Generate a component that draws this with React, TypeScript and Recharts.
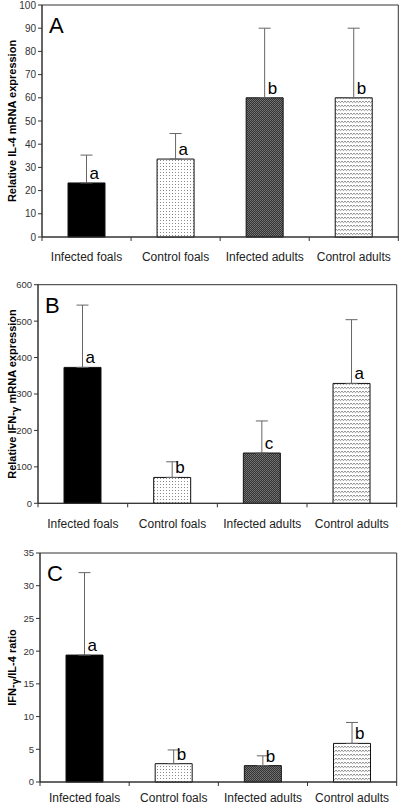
import React from 'react';
import { BarChart, Bar, XAxis, YAxis, ErrorBar, LabelList, ReferenceArea, Cell } from 'recharts';

const groups = ['Infected foals', 'Control foals', 'Infected adults', 'Control adults'];

// panel A - IL-4
const il4Mean = [23.3, 33.6, 60, 60];
const il4Sd = [12, 11, 30, 30];
const il4Letters = ['a', 'a', 'b', 'b'];
const il4Ticks = [0, 10, 20, 30, 40, 50, 60, 70, 80, 90, 100];

// panel B - IFN-gamma
const ifnMean = [373, 71, 138, 329];
const ifnSd = [171, 43, 88, 175];
const ifnLetters = ['a', 'b', 'c', 'a'];
const ifnTicks = [0, 100, 200, 300, 400, 500, 600];

// panel C - ratio
const ratioMean = [19.4, 2.8, 2.5, 5.9];
const ratioSd = [12.6, 2.1, 1.5, 3.2];
const ratioLetters = ['a', 'b', 'b', 'b'];
const ratioTicks = [0, 5, 10, 15, 20, 25, 30, 35];

const FONT = '"Liberation Sans", Arial, sans-serif';

type PanelProps = {
  id: string;
  top: number;
  height: number;
  margin: { top: number; right: number; bottom: number; left: number };
  yWidth: number;
  xHeight: number;
  labelDy: number;
  tag: string;
  yLabel: React.ReactNode;
  means: number[];
  sds: number[];
  letters: string[];
  ticks: number[];
  tickFont: number;
};

function Panel(p: PanelProps) {
  const W = 400;
  const data = groups.map((g, i) => ({
    name: g,
    value: p.means[i],
    err: [0, p.sds[i]],
    letter: p.letters[i],
  }));
  const plotW = W - p.margin.left - p.margin.right - p.yWidth;
  const bw = plotW / groups.length;
  const axisY = p.height - p.margin.bottom - p.xHeight;
  const plotTop = p.margin.top;
  const max = p.ticks[p.ticks.length - 1];
  const fills = ['#000', `url(#dots-${p.id})`, `url(#dark-${p.id})`, `url(#wave-${p.id})`];

  return (
    <div style={{ position: 'absolute', left: 0, top: p.top, width: W, height: p.height }}>
      <BarChart width={W} height={p.height} data={data} margin={p.margin} barSize={37}>
        <defs>
          <pattern id={`dots-${p.id}`} width={3} height={3} patternUnits="userSpaceOnUse">
            <rect width={3} height={3} fill="#fff" />
            <rect x={1} y={1} width={1} height={1} fill="#8a8a8a" />
          </pattern>
          <pattern id={`dark-${p.id}`} width={2} height={2} patternUnits="userSpaceOnUse">
            <rect width={2} height={2} fill="#333" />
            <rect x={0} y={0} width={1} height={1} fill="#777" />
            <rect x={1} y={1} width={1} height={1} fill="#6a6a6a" />
          </pattern>
          <pattern id={`wave-${p.id}`} width={3} height={4} patternUnits="userSpaceOnUse">
            <rect width={3} height={4} fill="#fff" />
            <polyline points="0,1.2 1.5,2.6 3,1.2" fill="none" stroke="#777" strokeWidth={0.9} />
          </pattern>
        </defs>
        <XAxis
          dataKey="name"
          height={p.xHeight}
          interval={0}
          axisLine={{ stroke: '#333' }}
          tickLine={false}
          tick={(t: any) => (
            <g>
              <line x1={t.x - bw / 2} x2={t.x - bw / 2} y1={axisY} y2={axisY + 4} stroke="#333" />
              {t.index === groups.length - 1 && (
                <line x1={t.x + bw / 2} x2={t.x + bw / 2} y1={axisY} y2={axisY + 4} stroke="#333" />
              )}
              <text x={t.x} y={axisY + p.labelDy} textAnchor="middle" fontSize={12} fontFamily={FONT} fill="#222">
                {t.payload.value}
              </text>
            </g>
          )}
        />
        <YAxis
          width={p.yWidth}
          domain={[0, max]}
          ticks={p.ticks}
          interval={0}
          axisLine={{ stroke: '#333' }}
          tickLine={{ stroke: '#333' }}
          tickSize={4}
          tickMargin={2}
          tick={{ fontSize: p.tickFont, fontFamily: FONT, fill: '#333' }}
          label={() => {
            const cy = plotTop + (axisY - plotTop) / 2;
            return (
              <text
                x={12}
                y={cy}
                transform={`rotate(-90 12 ${cy})`}
                textAnchor="middle"
                dy="0.35em"
                fontSize={11}
                fontWeight="bold"
                fontFamily={FONT}
                fill="#000"
              >
                {p.yLabel}
              </text>
            );
          }}
        />
        <ReferenceArea
          y1={0}
          y2={max}
          fill="none"
          fillOpacity={0}
          stroke="#333"
          strokeWidth={1}
          label={(l: any) => (
            <text x={l.viewBox.x + 7} y={l.viewBox.y + 28} fontSize={22} fontFamily={FONT} fill="#000">
              {p.tag}
            </text>
          )}
        />
        <Bar dataKey="value" stroke="#111" strokeWidth={1} isAnimationActive={false}>
          {data.map((_, i) => (
            <Cell key={i} fill={fills[i]} />
          ))}
          <ErrorBar dataKey="err" direction="y" width={6} stroke="#666" strokeWidth={1} isAnimationActive={false} />
          <LabelList
            dataKey="letter"
            content={(l: any) => (
              <text x={l.x + l.width / 2 + 3} y={l.y - 4} fontSize={17} fontFamily={FONT} fill="#000">
                {l.value}
              </text>
            )}
          />
        </Bar>
      </BarChart>
    </div>
  );
}

export default function App() {
  return (
    <div style={{ position: 'absolute', left: 0, top: 0, width: 400, height: 807, background: '#fff' }}>
      <Panel
        id="a"
        top={0}
        height={268}
        margin={{ top: 5, right: 1.7, bottom: 1, left: 0 }}
        yWidth={42}
        xHeight={30}
        labelDy={24}
        tag="A"
        yLabel="Relative IL-4 mRNA expression"
        means={il4Mean}
        sds={il4Sd}
        letters={il4Letters}
        ticks={il4Ticks}
        tickFont={10}
      />
      <Panel
        id="b"
        top={270}
        height={268}
        margin={{ top: 14.7, right: 3.3, bottom: 4.7, left: 0 }}
        yWidth={38}
        xHeight={30}
        labelDy={25}
        tag="B"
        yLabel={
          <>
            <tspan>Relative IFN-</tspan>
            <tspan fontSize={10} dy={3}>γ</tspan>
            <tspan dy={-3}> mRNA expression</tspan>
          </>
        }
        means={ifnMean}
        sds={ifnSd}
        letters={ifnLetters}
        ticks={ifnTicks}
        tickFont={9.5}
      />
      <Panel
        id="c"
        top={537}
        height={270}
        margin={{ top: 16, right: 3.3, bottom: 0, left: 0 }}
        yWidth={40}
        xHeight={25}
        labelDy={20}
        tag="C"
        yLabel={
          <>
            <tspan>IFN-</tspan>
            <tspan fontSize={10} dy={3}>γ</tspan>
            <tspan dy={-3}>/IL-4 ratio</tspan>
          </>
        }
        means={ratioMean}
        sds={ratioSd}
        letters={ratioLetters}
        ticks={ratioTicks}
        tickFont={9.5}
      />
    </div>
  );
}
